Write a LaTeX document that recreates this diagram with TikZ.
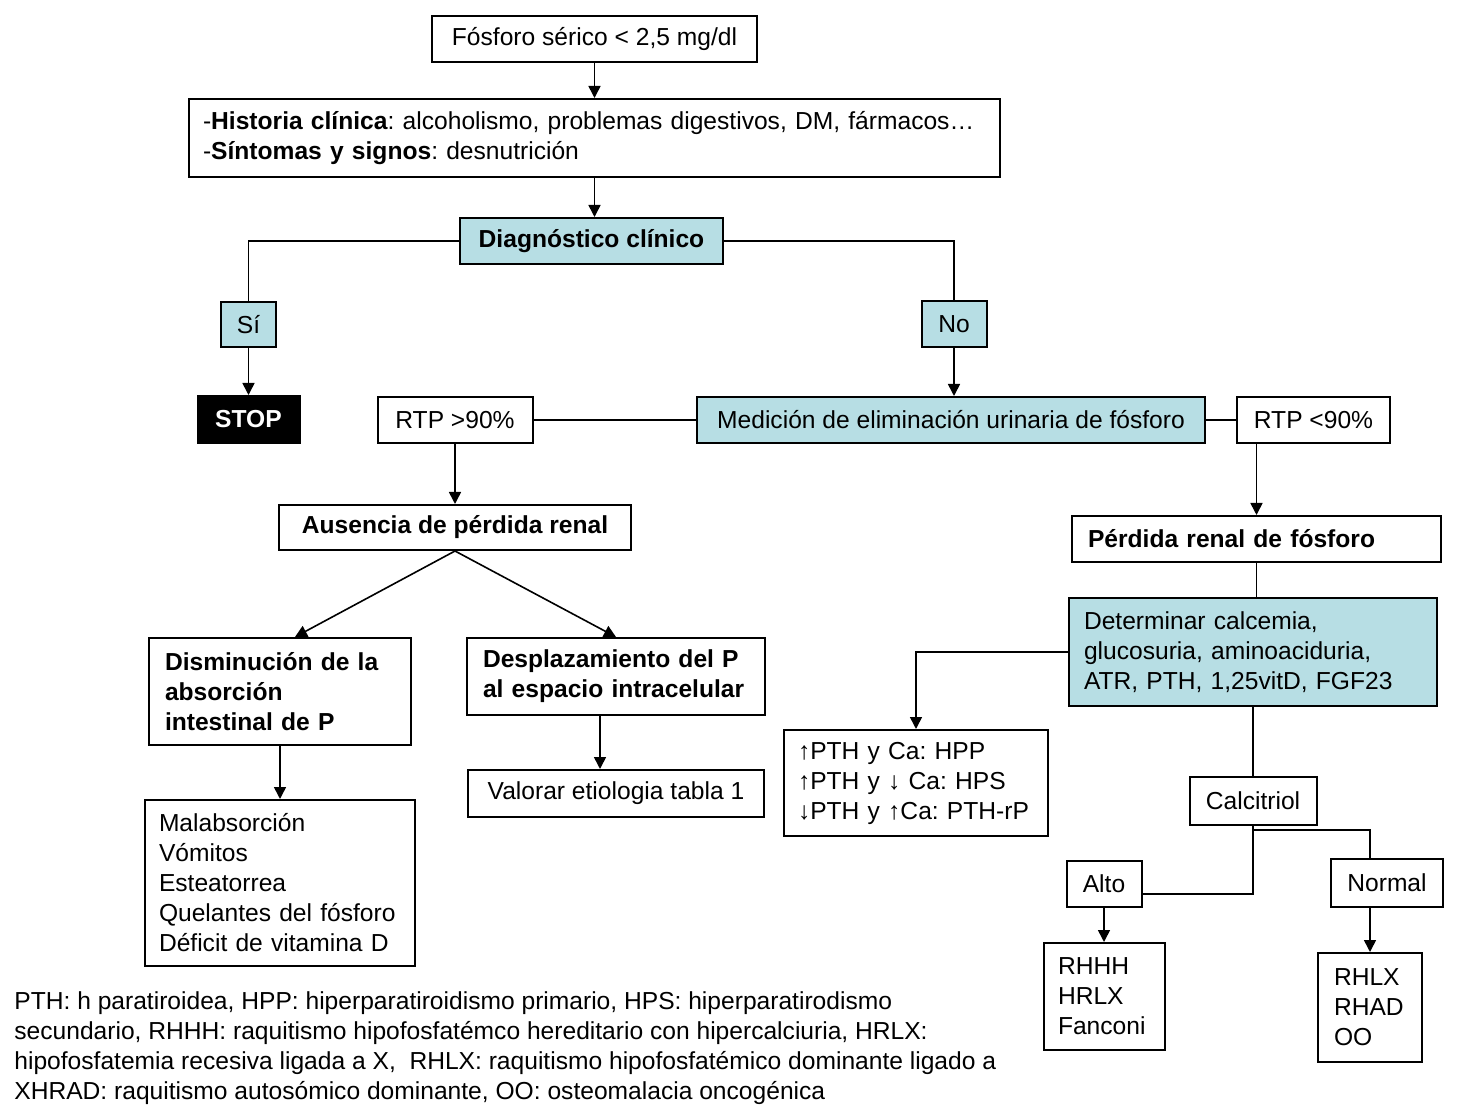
\documentclass[tikz,border=0pt]{standalone}
\usepackage{fontspec}
\setmainfont{Liberation Sans}
\usepackage{tikz}
\usetikzlibrary{arrows.meta,positioning,calc}

\definecolor{celeste}{RGB}{183,222,228}
\frenchspacing
\hyphenpenalty=10000

\begin{document}
\begin{tikzpicture}[x=0.5pt, y=-0.5pt,
        every node/.style={font=\fontsize{12.3}{15}\selectfont, inner sep=0pt},
        box/.style={draw, line width=1pt, align=center},
        blue/.style={box, fill=celeste},
        lbox/.style={draw, line width=1pt, align=left, inner xsep=8pt, inner ysep=0pt},
        bold/.style={font=\fontsize{12.3}{15}\selectfont\bfseries},
        arrow/.style={-{Triangle[length=6pt,width=6pt]}, line width=0.8pt},
        link/.style={line width=0.8pt}
        ]
        \useasboundingbox (0,0) rectangle (1479,1112);

        % ---------------- Top ----------------
        \node[box, minimum width=162.5pt, minimum height=23pt] (fosforo) at (594.5,39) {Fósforo sérico < 2,5 mg/dl};
        \node[lbox, text width=391.5pt, minimum height=39pt, inner xsep=7pt] (historia) at (594.5,138)
            {-\textbf{Historia clínica}: alcoholismo, problemas digestivos, DM, fármacos…\\
             -\textbf{Síntomas y signos}: desnutrición};
        \node[blue, bold, minimum width=131.5pt, minimum height=23pt] (diag) at (591.5,241) {Diagnóstico clínico};

        % ---------------- Sí / No ----------------
        \node[blue, minimum width=27.5pt, minimum height=22.5pt] (si) at (248.5,324.5) {Sí};
        \node[box, bold, fill=black, text=white, minimum width=51pt, minimum height=23.5pt] (stop) at (248.5,419.5) {STOP};
        \node[blue, minimum width=32.5pt, minimum height=23pt] (no) at (954,324) {No};
        \node[blue, minimum width=254pt, minimum height=23pt] (medicion) at (951,420) {Medición de eliminación urinaria de fósforo};
        \node[box, minimum width=77.5pt, minimum height=23pt] (rtpalto) at (455,420) {RTP >90\%};
        \node[box, minimum width=76.5pt, minimum height=23pt] (rtpbajo) at (1313.5,420) {RTP <90\%};

        % ---------------- Left branch ----------------
        \node[box, bold, minimum width=176pt, minimum height=22.5pt] (ausencia) at (455,527.5) {Ausencia de pérdida renal};
        \node[lbox, bold, text width=115pt, minimum height=53.5pt] (disminucion) at (280,691.5)
            {Disminución de la\\absorción\\intestinal de P};
        \node[lbox, bold, text width=133pt, minimum height=38.5pt] (desplaz) at (616,676.5)
            {Desplazamiento del P\\al espacio intracelular};
        \node[lbox, text width=121pt, minimum height=83pt, inner xsep=7pt] (causas) at (280,883)
            {Malabsorción\\Vómitos\\Esteatorrea\\Quelantes del fósforo\\Déficit de vitamina D};
        \node[box, minimum width=148pt, minimum height=23.5pt] (valorar) at (616,793.5) {Valorar etiologia tabla 1};

        % ---------------- Right branch ----------------
        \node[lbox, bold, text width=168.5pt, minimum height=23pt] (perdida) at (1256.5,539) {Pérdida renal de fósforo};
        \node[lbox, fill=celeste, text width=169pt, minimum height=54pt, inner xsep=7.5pt] (determinar) at (1253,652)
            {Determinar calcemia,\\glucosuria, aminoaciduria,\\ATR, PTH, 1,25vitD, FGF23};
        \node[lbox, text width=118pt, minimum height=53pt, inner xsep=7pt] (pth) at (916,783)
            {↑PTH y Ca: HPP\\↑PTH y ↓ Ca: HPS\\↓PTH y ↑Ca: PTH-rP};
        \node[box, minimum width=63.5pt, minimum height=24pt] (calcitriol) at (1253,801) {Calcitriol};
        \node[box, minimum width=37.5pt, minimum height=23pt] (alto) at (1104,884) {Alto};
        \node[box, minimum width=56pt, minimum height=24pt] (normal) at (1387,883) {Normal};
        \node[lbox, text width=46pt, minimum height=53.5pt, inner xsep=7.25pt] (rhhh) at (1104,996.5) {RHHH\\HRLX\\Fanconi};
        \node[lbox, text width=36pt, minimum height=54.5pt] (rhlx) at (1370,1007.5) {RHLX\\RHAD\\OO};

        % ---------------- Footnote ----------------
        \node[anchor=north west, align=left] (nota) at (14,991)
            {PTH: h paratiroidea, HPP: hiperparatiroidismo primario, HPS: hiperparatirodismo\\
             secundario, RHHH: raquitismo hipofosfatémco hereditario con hipercalciuria, HRLX:\\
             hipofosfatemia recesiva ligada a X,\ \ RHLX: raquitismo hipofosfatémico dominante ligado a\\
             XHRAD: raquitismo autosómico dominante, OO: osteomalacia oncogénica};

        % ---------------- Arrows ----------------
        \draw[arrow] (fosforo) -- (historia);
        \draw[arrow] (historia.south) -- (historia.south |- diag.north);
        \draw[link] (diag.west) -| (si.north);
        \draw[link] (diag.east) -| (no.north);
        \draw[arrow] (si) -- (stop);
        \draw[arrow] (no.south) -- (no.south |- medicion.north);
        \draw[link] (rtpalto) -- (medicion);
        \draw[link] (medicion) -- (rtpbajo);
        \draw[arrow] (rtpalto) -- (ausencia);
        \draw[arrow] (ausencia.south) -- ([xshift=7.5pt]disminucion.north);
        \draw[arrow] (ausencia.south) -- (desplaz.north);
        \draw[arrow] (disminucion) -- (causas);
        \draw[arrow] ([xshift=-8pt]desplaz.south) -- ([xshift=-8pt]valorar.north);
        \draw[arrow] (rtpbajo.south -| perdida.north) -- (perdida.north);
        \draw[link] (perdida.south) -- (perdida.south |- determinar.north);
        \draw[arrow] (determinar.west) -| (pth.north);
        \draw[link] (determinar) -- (calcitriol);
        \draw[link] (calcitriol.south) |- ([yshift=-5pt]alto.east);
        \draw[link] ([yshift=-2pt]calcitriol.south) -| (rhlx.north |- normal.north);
        \draw[arrow] (alto) -- (rhhh);
        \draw[arrow] (normal.south -| rhlx.north) -- (rhlx.north);

\end{tikzpicture}
\end{document}
